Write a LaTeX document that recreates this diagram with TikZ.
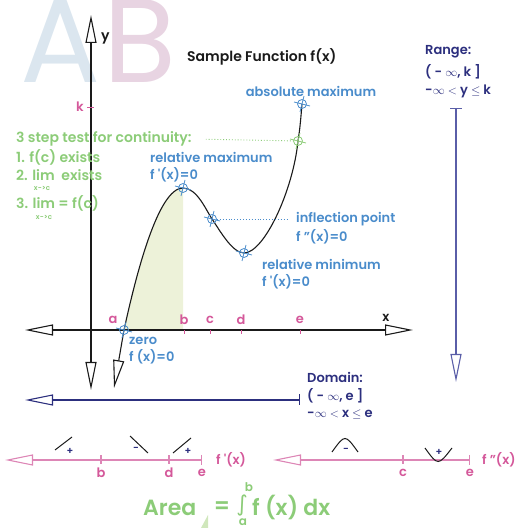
\documentclass[tikz,border=0pt]{standalone}
\usepackage{fontspec}
\setmainfont{Poppins}[BoldFont={* SemiBold}]
\newfontfamily\symbfont{DejaVu Sans}
\usepackage{tikz}
\usetikzlibrary{arrows.meta,positioning,calc}
\definecolor{ink}{HTML}{1A1A1A}
\definecolor{blueish}{HTML}{4A8CCB}
\definecolor{greenish}{HTML}{8CCC78}
\definecolor{pinkish}{HTML}{D4589A}
\definecolor{pinkline}{HTML}{DD86B6}
\definecolor{navy}{HTML}{2C2F7E}
\definecolor{navylight}{HTML}{5A5EA8}
\definecolor{areagreen}{HTML}{EDF2D9}
\definecolor{wmblue}{HTML}{DBE6EF}
\definecolor{wmpink}{HTML}{E8D4E2}
\tikzset{
  tri/.tip={Triangle[open,length=28pt,width=11pt]},
  every node/.style={font=\fontsize{13}{15}\selectfont\bfseries,text=ink,inner sep=0pt},
  wmark/.style={font=\fontsize{119}{119}\selectfont,anchor=base west,text depth=0pt},
  title/.style={font=\fontsize{14}{16}\selectfont\bfseries,anchor=west},
  critlbl/.style={text=blueish,anchor=west},
  contlbl/.style={text=greenish,anchor=west,font=\fontsize{14}{16}\selectfont\bfseries},
  sublbl/.style={text=greenish,font=\fontsize{7}{8}\selectfont\bfseries},
  ticklbl/.style={text=pinkish},
  rangelbl/.style={text=navy,anchor=west},
  signlbl/.style={text=navy,font=\fontsize{10}{11}\selectfont\bfseries},
  arealbl/.style={text=greenish,font=\fontsize{22}{24}\selectfont\bfseries},
  axisline/.style={draw=ink,line width=1.1pt},
  curve/.style={draw=ink,line width=1.1pt},
  rangeline/.style={draw=navylight,line width=1.1pt},
  domline/.style={draw=navy,line width=1.1pt},
  signline/.style={draw=pinkline,line width=1.1pt},
  ptick/.style={draw=pinkish,line width=0.9pt},
  slope/.style={draw=ink,line width=1pt},
  critpt/.style={circle,draw=blueish,line width=0.8pt,minimum size=9pt,inner sep=0pt},
  contpt/.style={critpt,draw=greenish},
  crosshair/.pic={\draw[line width=0.8pt] (-8,2)--(8,-2) (-2,-8)--(2,8);},
  guide/.style={dotted,line width=0.9pt}
}
\begin{document}
\begin{tikzpicture}[x=1pt,y=1pt]
  \useasboundingbox (0,0) rectangle (523,531);
  % watermark
  \node[wmark,text=wmblue] (wmA) at (20,448) {A};
  \node[wmark,text=wmpink] (wmB) at (103,448) {B};

  \coordinate (zero) at (124,201);
  \coordinate (relmax) at (183,343);
  \coordinate (infl) at (212,312);
  \coordinate (relmin) at (244,278);
  \coordinate (cont) at (298,390);
  \coordinate (absmax) at (302,427);
  \coordinate (tail) at (114,143);

  \fill[areagreen] (zero) .. controls (136,256) and (158,343) .. (relmax) -- (relmax |- zero) -- cycle;

  % axes
  \coordinate (ytop) at (91,516);
  \coordinate (ybot) at (91,141);
  \coordinate (xleft) at (25,201);
  \coordinate (xright) at (413,201);
  \draw[axisline,tri-tri] (ybot) -- (ytop);
  \draw[axisline,tri-tri] (xleft) -- (xright);
  \node[font=\fontsize{14}{15}\selectfont\bfseries,anchor=west] (ylbl) at (101,493) {y};
  \node[font=\fontsize{13}{14}\selectfont\bfseries] (xlbl) at (386,213) {x};
  \node[ticklbl] (klbl) at (80,424) {k};
  \draw[ptick] (87,424) -- (94,424);

  % sample function
  \draw[curve,tri-] (tail) -- (zero) .. controls (136,256) and (158,343) .. (relmax)
    .. controls (197,343) and (206,321) .. (infl)
    .. controls (219,302) and (232,278) .. (relmin)
    .. controls (264,278) and (293,340) .. (cont)
    .. controls (300,402) and (301,415) .. (absmax);

  \node[critpt] (mzero) at (zero) {};
  \pic[blueish] at (zero) {crosshair};
  \node[critpt] (mrelmax) at (relmax) {};
  \pic[blueish] at (relmax) {crosshair};
  \node[critpt] (minfl) at (infl) {};
  \pic[blueish] at (infl) {crosshair};
  \node[critpt] (mrelmin) at (relmin) {};
  \pic[blueish] at (relmin) {crosshair};
  \node[critpt] (mabsmax) at (absmax) {};
  \pic[blueish] at (absmax) {crosshair};
  \node[contpt] (mcont) at (cont) {};
  \pic[greenish] at (cont) {crosshair};

  % x ticks
  \node[ticklbl] (ta) at (113,211) {a};
  \node[ticklbl] (tb) at (184,211) {b};
  \node[ticklbl] (tc) at (210,211) {c};
  \node[ticklbl] (td) at (241,211) {d};
  \node[ticklbl] (te) at (300,211) {e};
  \draw[ptick] (184,197) -- (184,201);
  \draw[ptick] (210,197) -- (210,201);
  \draw[ptick] (241,197) -- (241,201);
  \draw[ptick] (300,197) -- (300,201);

  \node[title] (ttl) at (187,474) {Sample Function f(x)};

  % labels
  \node[critlbl,anchor=center] (labsmax) at (311,440) {absolute maximum};
  \node[critlbl] (lrelmax) at (150,374) {relative maximum};
  \node[critlbl] (lrelmax2) at (150,356) {f \textquotesingle(x)=0};
  \node[critlbl] (linfl) at (296,312) {inflection point};
  \node[critlbl] (linfl2) at (296,294) {f "(x)=0};
  \node[critlbl] (lrelmin) at (262,267) {relative minimum};
  \node[critlbl] (lrelmin2) at (262,249) {f \textquotesingle(x)=0};
  \node[critlbl] (lzero) at (129,190) {zero};
  \node[critlbl] (lzero2) at (129,174) {f (x)=0};
  \draw[guide,draw=blueish] (minfl) -- (linfl.west -| 287,0);

  \node[contlbl] (ltest) at (16,392) {3 step test for continuity:};
  \node[contlbl] (lstep1) at (16,374) {1. f(c) exists};
  \node[contlbl] (lstep2) at (16,356) {2. lim\ \ exists};
  \node[sublbl] (lsub2) at (42,342) {x->c};
  \node[contlbl] (lstep3) at (16,328) {3. lim = f(c)};
  \node[sublbl] (lsub3) at (44,313) {x->c};
  \draw[guide,draw=greenish,shorten <=14pt] (ltest.east) -- (mcont);

  % range
  \node[rangelbl] (lrange) at (425,479) {Range:};
  \node[rangelbl] (lrange2) at (425,459) {( - $\infty$, k ]};
  \node[rangelbl] (lrange3) at (425,440) {-$\infty$ $<$ y $\leq$ k};
  \coordinate (rtop) at (456,423);
  \coordinate (rbot) at (456,149);
  \draw[rangeline,{Bar[width=12pt]}-tri] (rtop) -- (rbot);

  % domain
  \node[rangelbl] (ldom) at (307,154) {Domain:};
  \node[rangelbl] (ldom2) at (307,135) {( - $\infty$, e ]};
  \node[rangelbl] (ldom3) at (307,116) {-$\infty$ $<$ x $\leq$ e};
  \coordinate (dleft) at (25,131);
  \coordinate (dright) at (300,131);
  \draw[domline,tri-{Bar[width=11pt]}] (dleft) -- (dright);

  % first derivative signs
  \coordinate (fpleft) at (5,71);
  \coordinate (fpright) at (202,71);
  \draw[signline,tri-{Bar[width=10pt]}] (fpleft) -- (fpright);
  \draw[signline] (101,67) -- (101,76);
  \draw[signline] (169,67) -- (169,76);
  \node[ticklbl] (fpb) at (101,58) {b};
  \node[ticklbl] (fpd) at (169,58) {d};
  \node[ticklbl] (fpe) at (202,58) {e};
  \node[text=pinkish,anchor=west] (fplbl) at (216,71) {f \textquotesingle(x)};
  \draw[slope] (55,81) -- (72,94);
  \draw[slope] (130,95) -- (148,78);
  \draw[slope] (173,78) -- (191,93);
  \node[signlbl] (s1) at (70,80) {+};
  \node[signlbl] (s2) at (136,82) {-};
  \node[signlbl] (s3) at (188,80) {+};

  % second derivative signs
  \coordinate (fppleft) at (273,71);
  \coordinate (fppright) at (470,71);
  \draw[signline,tri-{Bar[width=10pt]}] (fppleft) -- (fppright);
  \draw[signline] (403,67) -- (403,76);
  \node[ticklbl] (fppc) at (403,58) {c};
  \node[ticklbl] (fppe) at (470,58) {e};
  \node[text=pinkish,anchor=west] (fpplbl) at (482,71) {f "(x)};
  \draw[slope] (332,79) .. controls (345,97) .. (358,79);
  \draw[slope] (425,83) .. controls (438,65) .. (452,83);
  \node[signlbl] (s4) at (346,81) {-};
  \node[signlbl] (s5) at (439,79) {+};

  % area
  \fill[areagreen!70!greenish] (201,3) -- (208,3) -- (208,16) -- cycle;
  \node[arealbl,anchor=west] (area) at (143,23) {Area};
  \node[arealbl] (areaeq) at (222,23) {=};
  \node[text=greenish,font=\fontsize{22}{24}\selectfont\symbfont] (areaint) at (242,25) {∫};
  \node[text=greenish,font=\fontsize{12}{14}\selectfont\bfseries] (areab) at (249,44) {b};
  \node[text=greenish,font=\fontsize{12}{14}\selectfont\bfseries] (areaa) at (243,9) {a};
  \node[arealbl,anchor=west] (areaf) at (252,23) {f (x) dx};
\end{tikzpicture}
\end{document}
